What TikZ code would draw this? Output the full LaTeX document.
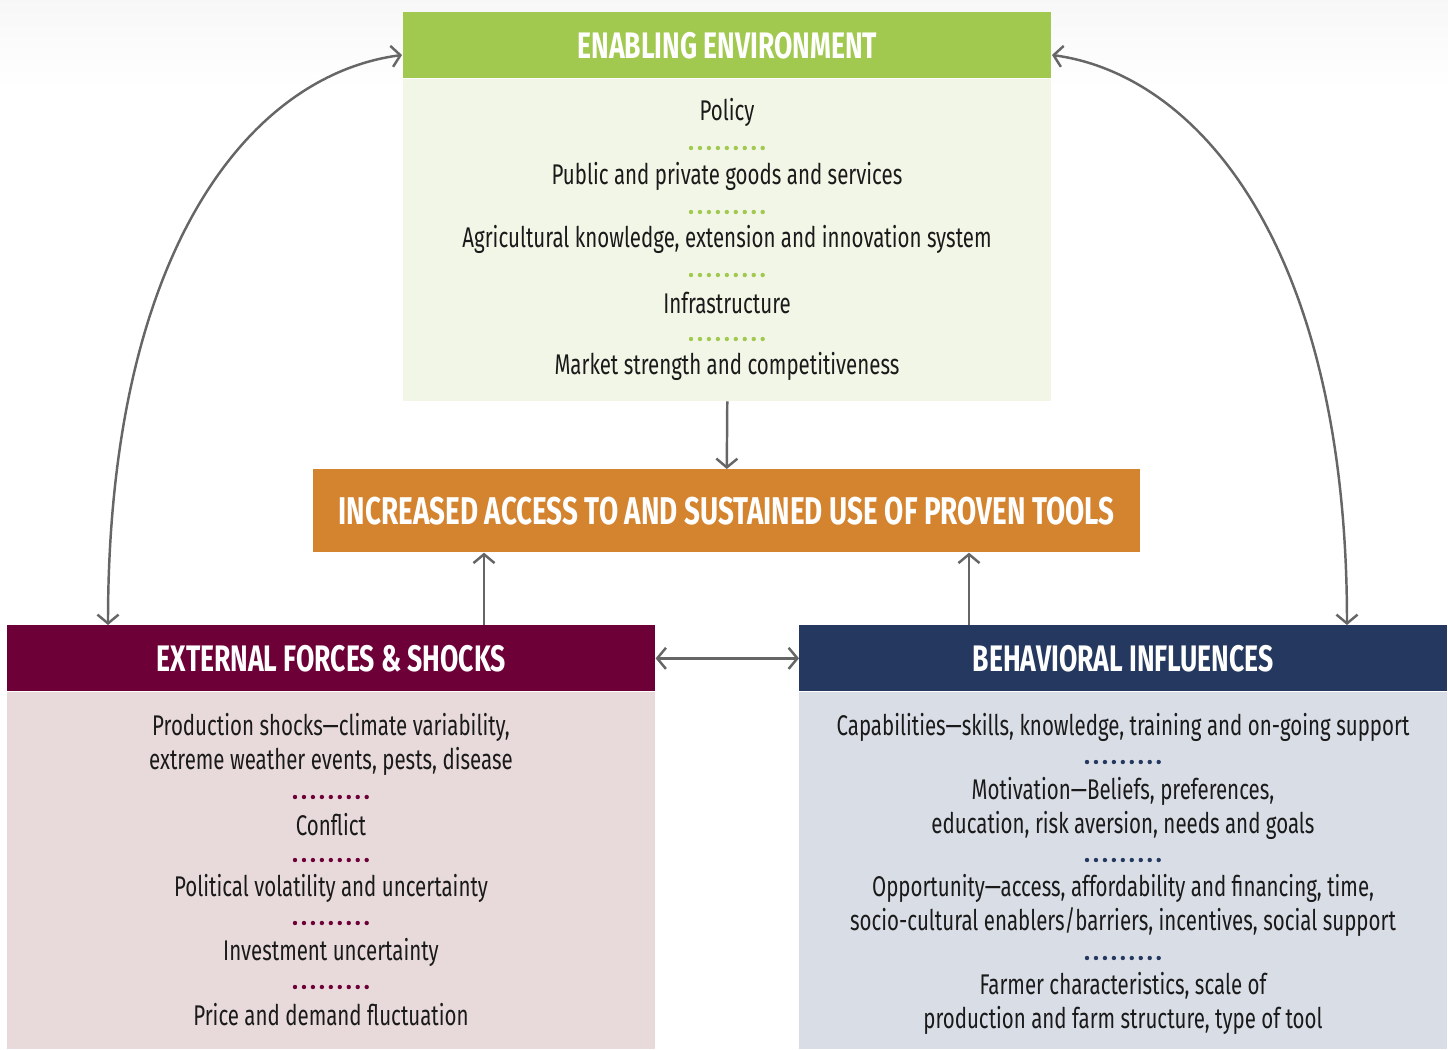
\documentclass[tikz,border=0pt]{standalone}
\usepackage{fontspec}
\setmainfont{Fira Sans}[FakeStretch=0.72]
\usetikzlibrary{arrows.meta,positioning}

\definecolor{envgreen}{HTML}{A2C94F}
\definecolor{envpale}{HTML}{F1F6E6}
\definecolor{toolorange}{HTML}{D4832F}
\definecolor{extmaroon}{HTML}{6E0038}
\definecolor{extpale}{HTML}{E8DADB}
\definecolor{behnavy}{HTML}{253860}
\definecolor{behpale}{HTML}{D9DDE6}
\definecolor{arrowgray}{HTML}{666666}
\definecolor{textblack}{HTML}{1A1A1A}

\begin{document}
\begin{tikzpicture}[
  x=0.02cm, y=-0.02cm,
  >={Straight Barb[length=5pt,width=12pt,line width=1.4pt]},
  header/.style = {rectangle, anchor=north west, inner sep=0pt, text=white,
    minimum width=12.96cm, minimum height=1.32cm,
    font=\bfseries\fontsize{21}{23}\selectfont},
  panel/.style = {rectangle, inner sep=0pt, minimum width=12.96cm},
  item/.style = {align=center, text=textblack, font=\fontsize{16.2}{19.3}\selectfont},
  flow/.style = {draw=arrowgray, line width=1.4pt},
  sepdots/.style = {draw=#1, line width=2.5pt, line cap=round, dash pattern=on 0pt off 5.1pt}
]
  \useasboundingbox (0,0) rectangle (1448,1049);
  \shade[top color=black!3, bottom color=white] (0,0) rectangle (1448,90);

  % enabling environment
  \node[header, fill=envgreen] (envhead) at (403,12) {ENABLING ENVIRONMENT};
  \node[panel, fill=envpale, minimum height=6.44cm, below=0pt of envhead] (envbody) {};
  \node[item] (policy) at (727,112) {Policy};
  \node[item] (goods) at (727,176) {Public and private goods and services};
  \node[item] (akis) at (727,239) {Agricultural knowledge, extension and innovation system};
  \node[item] (infra) at (727,303) {Infrastructure};
  \node[item] (market) at (727,366) {Market strength and competitiveness};
  \foreach \y in {148,212,275,339}
    \draw[sepdots=envgreen] (691,\y) -- ++(72.5,0);

  % proven tools
  \node[rectangle, anchor=north west, fill=toolorange, text=white, inner sep=0pt,
        minimum width=16.54cm, minimum height=1.66cm,
        font=\bfseries\fontsize{22}{24}\selectfont] (tools) at (313,469)
        {INCREASED ACCESS TO AND SUSTAINED USE OF PROVEN TOOLS};

  % external forces
  \node[header, fill=extmaroon] (exthead) at (7,625) {EXTERNAL FORCES \& SHOCKS};
  \node[panel, fill=extpale, minimum height=7.14cm, below=0pt of exthead] (extbody) {};
  \node[item] (prodshock) at (331,744) {Production shocks---climate variability,\\extreme weather events, pests, disease};
  \node[item] (conflict) at (331,825) {Conflict};
  \node[item] (political) at (331,888) {Political volatility and uncertainty};
  \node[item] (invest) at (331,952) {Investment uncertainty};
  \node[item] (price) at (331,1015) {Price and demand fluctuation};
  \foreach \y in {797,860,923,987}
    \draw[sepdots=extmaroon] (295,\y) -- ++(72.5,0);

  % behavioral influences
  \node[header, fill=behnavy] (behhead) at (799,625) {BEHAVIORAL INFLUENCES};
  \node[panel, fill=behpale, minimum height=7.14cm, below=0pt of behhead] (behbody) {};
  \node[item] (capab) at (1123,727) {Capabilities---skills, knowledge, training and on-going support};
  \node[item] (motiv) at (1123,808) {Motivation---Beliefs, preferences,\\education, risk aversion, needs and goals};
  \node[item] (opport) at (1123,905) {Opportunity---access, affordability and financing, time,\\socio-cultural enablers/barriers, incentives, social support};
  \node[item] (farmer) at (1123,1003) {Farmer characteristics, scale of\\production and farm structure, type of tool};
  \foreach \y in {762,860,958}
    \draw[sepdots=behnavy] (1087,\y) -- ++(72.5,0);

  % connectors
  \coordinate (extup) at (484,625);
  \coordinate (behup) at (969,625);
  \coordinate (extleft) at (108,625);
  \coordinate (behright) at (1347,625);
  \coordinate (envleft) at (402,55);
  \coordinate (envright) at (1052,55);
  \draw[flow, ->] (envbody.south) -- (tools.north);
  \draw[flow, ->] (extup) -- (extup |- tools.south);
  \draw[flow, ->] (behup) -- (behup |- tools.south);
  \draw[flow, <->] (exthead.east) -- (behhead.west);
  \draw[flow, <->] (extleft) .. controls (108,250) and (250,75) .. (envleft);
  \draw[flow, <->] (envright) .. controls (1200,75) and (1347,250) .. (behright);
\end{tikzpicture}
\end{document}
